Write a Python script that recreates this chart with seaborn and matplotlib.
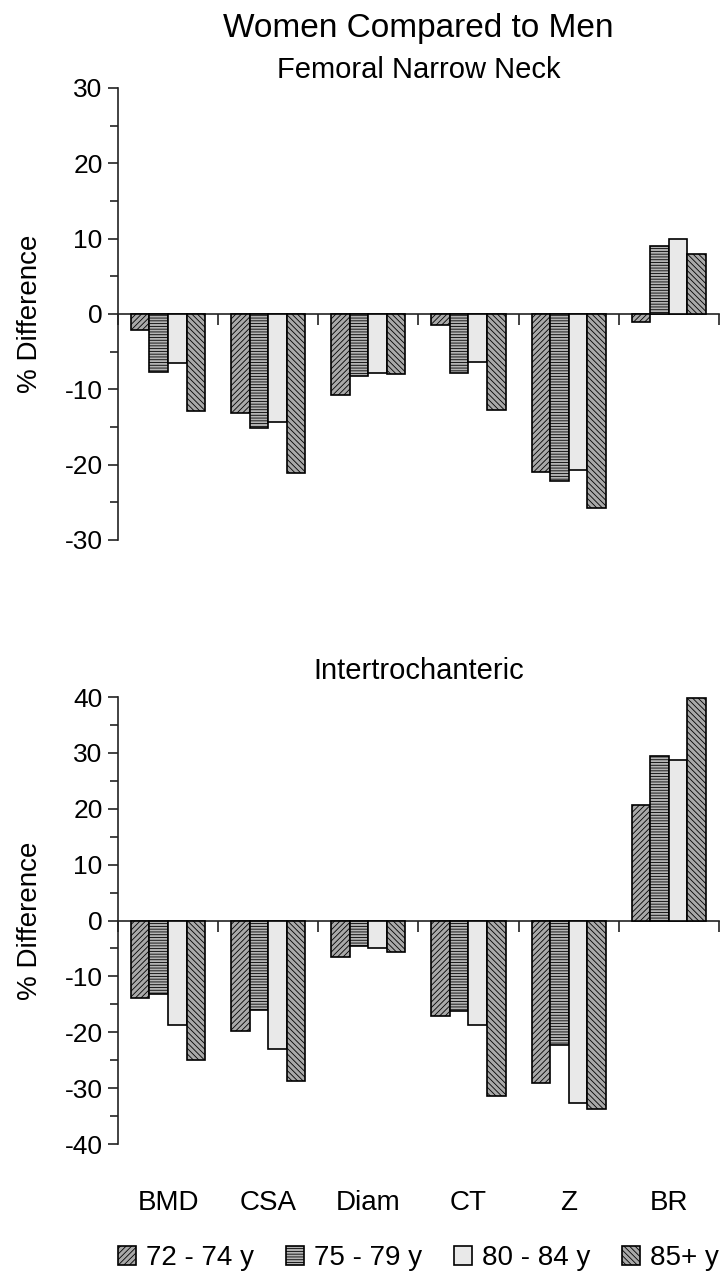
import numpy as np
import pandas as pd
import matplotlib
matplotlib.use('Agg')
import matplotlib.pyplot as plt
from matplotlib.ticker import MultipleLocator
import seaborn as sns

# bone measures and age groups
categories = ['BMD', 'CSA', 'Diam', 'CT', 'Z', 'BR']
age_groups = ['72 - 74 y', '75 - 79 y', '80 - 84 y', '85+ y']

# % difference, women vs men - femoral narrow neck
neck_72_74 = [-2.1, -13.1, -10.7, -1.5, -21.0, -1.0]
neck_75_79 = [-7.7, -15.1, -8.2, -7.8, -22.2, 9.0]
neck_80_84 = [-6.5, -14.3, -7.8, -6.4, -20.7, 9.9]
neck_85_up = [-12.9, -21.1, -8.0, -12.7, -25.8, 7.9]

# % difference - intertrochanteric
it_72_74 = [-13.8, -19.8, -6.6, -17.1, -29.1, 20.7]
it_75_79 = [-13.2, -16.0, -4.5, -16.2, -22.2, 29.4]
it_80_84 = [-18.7, -23.0, -5.0, -18.7, -32.6, 28.7]
it_85_up = [-24.9, -28.8, -5.7, -31.4, -33.8, 39.9]

fills = ['#a9a9a9', '#b4b4b4', '#e9e9e9', '#a9a9a9']
hatches = ['//////', '------', '', '\\\\\\\\\\\\']


def long_form(series):
    rows = []
    for age, vals in zip(age_groups, series):
        for cat, v in zip(categories, vals):
            rows.append({'measure': cat, 'age': age, 'diff': v})
    return pd.DataFrame(rows)


neck = long_form([neck_72_74, neck_75_79, neck_80_84, neck_85_up])
inter = long_form([it_72_74, it_75_79, it_80_84, it_85_up])

sns.set_style('white')
plt.rcParams['font.family'] = ['Liberation Sans', 'DejaVu Sans']
plt.rcParams['hatch.linewidth'] = 0.6
plt.rcParams['axes.unicode_minus'] = False
plt.rcParams['text.color'] = 'black'
plt.rcParams['axes.labelcolor'] = 'black'
plt.rcParams['xtick.color'] = 'black'
plt.rcParams['ytick.color'] = 'black'

fig = plt.figure(figsize=(7.28, 12.75), dpi=100)
ax1 = fig.add_axes([0.162, 0.5765, 0.8255, 0.3545])
ax2 = fig.add_axes([0.162, 0.1027, 0.8255, 0.3506])


def draw_panel(ax, df, ylim, title, title_pad, show_labels):
    sns.barplot(data=df, x='measure', y='diff', hue='age', order=categories,
                hue_order=age_groups, palette=fills, width=0.74,
                edgecolor='black', linewidth=1.2, legend=False, ax=ax)
    for cont, h in zip(ax.containers, hatches):
        for bar in cont:
            bar.set_hatch(h)
    ax.set_xlim(-0.5, len(categories) - 0.5)
    ax.set_ylim(*ylim)
    ax.yaxis.set_major_locator(MultipleLocator(10))
    ax.yaxis.set_minor_locator(MultipleLocator(5))
    ax.tick_params(axis='y', which='both', left=True, direction='out',
                   width=1.2, labelsize=19, pad=4, color='#222222')
    ax.tick_params(axis='y', which='major', length=7)
    ax.tick_params(axis='y', which='minor', length=6)
    for s in ['top', 'right', 'bottom']:
        ax.spines[s].set_visible(False)
    ax.spines['left'].set_linewidth(1.2)
    ax.spines['left'].set_color('#222222')
    ax.set_xlabel('')
    ax.set_ylabel('% Difference', fontsize=20)
    ax.yaxis.set_label_coords(-0.125, 0.5)
    ax.set_title(title, fontsize=21, pad=title_pad)

    # category labels along the bottom
    ax.set_xticks(range(len(categories)))
    if show_labels:
        ax.set_xticklabels(categories, fontsize=20)
    else:
        ax.set_xticklabels([])
    ax.tick_params(axis='x', length=0, pad=33)

    # zero line with ticks between the groups
    zero = (0 - ylim[0]) / (ylim[1] - ylim[0])
    sec = ax.secondary_xaxis(zero)
    sec.set_xticks(np.arange(len(categories) + 1) - 0.5)
    sec.tick_params(axis='x', bottom=True, top=False, labelbottom=False,
                    labeltop=False, direction='out', length=8, width=1.2,
                    color='#222222')
    for s in sec.spines.values():
        s.set_linewidth(1.2)
        s.set_color('#222222')


draw_panel(ax1, neck, (-30, 30), 'Femoral Narrow Neck', 7, False)
draw_panel(ax2, inter, (-40, 40), 'Intertrochanteric', 13, True)

fig.text(0.575, 0.978, 'Women Compared to Men', fontsize=24,
         ha='center', va='center')

handles = [c[0] for c in ax1.containers]
fig.legend(handles, age_groups, loc='center', bbox_to_anchor=(0.575, 0.013),
           ncol=4, frameon=False, fontsize=20, handlelength=0.65,
           handleheight=0.65, handletextpad=0.36, columnspacing=1.15,
           borderaxespad=0)

fig.savefig('out.png', dpi=100)
